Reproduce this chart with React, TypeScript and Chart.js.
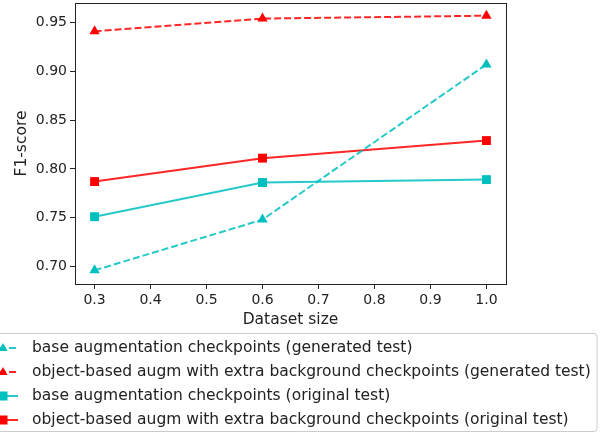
import React, { useEffect, useRef } from "react";
import { Chart, registerables } from "chart.js";

Chart.register(...registerables);

const datasetSizes = [0.3, 0.6, 1.0];
const baseGenerated = [0.696, 0.748, 0.907];
const objGenerated = [0.941, 0.954, 0.957];
const baseOriginal = [0.751, 0.786, 0.789];
const objOriginal = [0.787, 0.811, 0.829];
const xTicks = [0.3, 0.4, 0.5, 0.6, 0.7, 0.8, 0.9, 1.0];
const yTicks = [0.7, 0.75, 0.8, 0.85, 0.9, 0.95];
const labels = [
  "base augmentation checkpoints (generated test)",
  "object-based augm with extra background checkpoints (generated test)",
  "base augmentation checkpoints (original test)",
  "object-based augm with extra background checkpoints (original test)",
];

const CYAN = "#00bfbf";
const RED = "#ff0000";
const CYAN_LINE = "rgba(0,191,191,0.85)";
const RED_LINE = "rgba(255,0,0,0.85)";
const FONT = "'DejaVu Sans', sans-serif";
const DASH = [7, 3];

const legendPlugin = {
  id: "customLegend",
  afterDraw(chart: any) {
    const ctx = chart.ctx;
    const ca = chart.chartArea;
    ctx.save();
    ctx.strokeStyle = "#222";
    ctx.lineWidth = 1;
    ctx.strokeRect(Math.round(ca.left) + 0.5, Math.round(ca.top) + 0.5, Math.round(ca.right - ca.left), Math.round(ca.bottom - ca.top));
    const bx = -6, by = 333.5, bw = 603, bh = 98;
    ctx.strokeStyle = "#cccccc";
    ctx.fillStyle = "rgba(255,255,255,0.8)";
    ctx.beginPath();
    const r = 3;
    ctx.moveTo(bx + r, by);
    ctx.lineTo(bx + bw - r, by);
    ctx.quadraticCurveTo(bx + bw, by, bx + bw, by + r);
    ctx.lineTo(bx + bw, by + bh - r);
    ctx.quadraticCurveTo(bx + bw, by + bh, bx + bw - r, by + bh);
    ctx.lineTo(bx + r, by + bh);
    ctx.quadraticCurveTo(bx, by + bh, bx, by + bh - r);
    ctx.lineTo(bx, by + r);
    ctx.quadraticCurveTo(bx, by, bx + r, by);
    ctx.closePath();
    ctx.fill();
    ctx.stroke();
    const rows = [348, 372, 396, 420];
    chart.data.datasets.forEach((ds: any, i: number) => {
      const y = rows[i];
      ctx.strokeStyle = ds.borderColor;
      ctx.lineWidth = 2;
      ctx.setLineDash(ds.borderDash || []);
      ctx.beginPath();
      ctx.moveTo(-11, y);
      ctx.lineTo(18, y);
      ctx.stroke();
      ctx.setLineDash([]);
      ctx.fillStyle = ds.pointBackgroundColor;
      const mx = 3;
      if (ds.pointStyle === "triangle") {
        const s = 5;
        ctx.beginPath();
        ctx.moveTo(mx, y - s);
        ctx.lineTo(mx + s * 0.9, y + s * 0.6);
        ctx.lineTo(mx - s * 0.9, y + s * 0.6);
        ctx.closePath();
        ctx.fill();
      } else {
        ctx.fillRect(mx - 4.5, y - 4.5, 9, 9);
      }
      ctx.fillStyle = "#222";
      ctx.font = `15.5px ${FONT}`;
      ctx.textBaseline = "middle";
      ctx.textAlign = "left";
      ctx.fillText(labels[i], 32, y);
    });
    ctx.restore();
  },
};

export default function App() {
  const ref = useRef<HTMLCanvasElement>(null);
  useEffect(() => {
    const mk = (vals: number[]) => vals.map((v, i) => ({ x: datasetSizes[i], y: v }));
    const chart = new Chart(ref.current!, {
      type: "line",
      data: {
        datasets: [
          { label: labels[0], data: mk(baseGenerated), borderColor: CYAN_LINE, borderDash: DASH, pointStyle: "triangle", pointRadius: 6, pointBackgroundColor: CYAN, pointBorderColor: CYAN, pointBorderWidth: 0, borderWidth: 2 },
          { label: labels[1], data: mk(objGenerated), borderColor: RED_LINE, borderDash: DASH, pointStyle: "triangle", pointRadius: 6, pointBackgroundColor: RED, pointBorderColor: RED, pointBorderWidth: 0, borderWidth: 2 },
          { label: labels[2], data: mk(baseOriginal), borderColor: CYAN_LINE, pointStyle: "rect", pointRadius: 6.3, pointBackgroundColor: CYAN, pointBorderColor: CYAN, pointBorderWidth: 0, borderWidth: 2 },
          { label: labels[3], data: mk(objOriginal), borderColor: RED_LINE, pointStyle: "rect", pointRadius: 6.3, pointBackgroundColor: RED, pointBorderColor: RED, pointBorderWidth: 0, borderWidth: 2 },
        ] as any,
      },
      options: {
        animation: false,
        responsive: false,
        devicePixelRatio: 1,
        layout: { autoPadding: false, padding: { left: 0, top: 3, right: 103, bottom: 101 } },
        plugins: { legend: { display: false }, tooltip: { enabled: false } },
        scales: {
          x: {
            type: "linear",
            min: 0.265,
            max: 1.035,
            afterBuildTicks: (s: any) => { s.ticks = xTicks.map((v) => ({ value: v })); },
            afterFit: (s: any) => { s.height = 50; s.paddingLeft = 0; s.paddingRight = 0; },
            grid: { drawOnChartArea: false, tickLength: 5, color: "#222", tickColor: "#222" },
            border: { display: true, color: "#222" },
            ticks: { color: "#222", font: { family: FONT, size: 14 }, padding: 3, maxRotation: 0, callback: (v: any) => Number(v).toFixed(1) },
            title: { display: true, text: "Dataset size", color: "#222", font: { family: FONT, size: 15.5 }, padding: { top: 0, bottom: 5 } },
          },
          y: {
            type: "linear",
            min: 0.682,
            max: 0.97,
            afterBuildTicks: (s: any) => { s.ticks = yTicks.map((v) => ({ value: v })); },
            afterFit: (s: any) => { s.width = 75; s.paddingTop = 0; s.paddingBottom = 0; },
            grid: { drawOnChartArea: false, tickLength: 5, color: "#222", tickColor: "#222" },
            border: { display: true, color: "#222" },
            ticks: { color: "#222", font: { family: FONT, size: 14 }, padding: 3, callback: (v: any) => Number(v).toFixed(2) },
            title: { display: true, text: "F1-score", color: "#222", font: { family: FONT, size: 15.5 }, padding: { top: 13, bottom: 4 } },
          },
        },
      },
      plugins: [legendPlugin],
    } as any);
    return () => chart.destroy();
  }, []);
  return (
    <div style={{ position: "fixed", left: 0, top: 0, width: 609, height: 435, background: "#fff" }}>
      <canvas ref={ref} width={609} height={435} style={{ display: "block" }} />
    </div>
  );
}
